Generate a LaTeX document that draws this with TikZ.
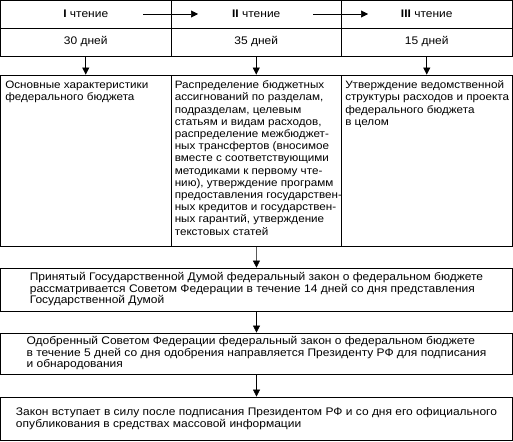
\documentclass[tikz,border=0pt]{standalone}
\usepackage{fontspec}
\setmainfont[FakeStretch=1.09]{Liberation Sans}
\usetikzlibrary{arrows.meta,positioning}

\begin{document}
\begin{tikzpicture}[x=1pt,y=-1pt,
  every node/.style={inner sep=0pt,font=\fontsize{11}{11.5}\selectfont},
  cell/.style={draw,line width=0.8pt,minimum width=170.5pt,minimum height=28pt},
  stagebox/.style={draw,line width=0.8pt,minimum width=170.5pt,minimum height=171pt},
  wide/.style={draw,line width=0.8pt,minimum width=512pt,align=left},
  txt/.style={anchor=north west,align=left,font=\fontsize{10.7}{12.2}\selectfont},
  flow/.style={line width=0.6pt,-{Triangle[length=7pt,width=7pt]}}]
\useasboundingbox (0,0) rectangle (513,441);
% readings
\node[cell] (h1) at (85.75,14) {\textbf{I} чтение};
\node[cell] (h2) at (256.25,14) {\textbf{II} чтение};
\node[cell] (h3) at (426.75,14) {\textbf{III} чтение};
\node[cell] (d1) at (85.75,42) {30 дней};
\node[cell] (d2) at (256.25,42) {35 дней};
\node[cell] (d3) at (426.75,42) {15 дней};
\coordinate (r1a) at (143,14);
\coordinate (r1b) at (198,14);
\coordinate (r2a) at (313,14);
\coordinate (r2b) at (368,14);
\draw[flow] (r1a) -- (r1b);
\draw[flow] (r2a) -- (r2b);
% what is adopted at each reading
\node[stagebox] (m1) at (85.75,160.5) {};
\node[stagebox] (m2) at (256.25,160.5) {};
\node[stagebox] (m3) at (426.75,160.5) {};
\node[txt] (t1) at ([xshift=5pt,yshift=-6pt]m1.north west) {Основные характеристики\\федерального бюджета};
\node[txt] (t2) at ([xshift=4pt,yshift=-6pt]m2.north west) {Распределение бюджетных\\ассигнований по разделам,\\подразделам, целевым\\статьям и видам расходов,\\распределение межбюджет-\\ных трансфертов (вносимое\\вместе с соответствующими\\методиками к первому чте-\\нию), утверждение программ\\предоставления государствен-\\ных кредитов и государствен-\\ных гарантий, утверждение\\текстовых статей};
\node[txt] (t3) at ([xshift=4pt,yshift=-6pt]m3.north west) {Утверждение ведомственной\\структуры расходов и проекта\\федерального бюджета\\в целом};
\draw[flow] (d1) -- (m1);
\draw[flow] (d2) -- (m2);
\draw[flow] (d3) -- (m3);
% further stages
\node[wide,minimum height=43pt] (b1) at (256.5,289.5) {Принятый Государственной Думой федеральный закон о федеральном бюджете\\рассматривается Советом Федерации в течение 14 дней со дня представления\\Государственной Думой};
\node[wide,minimum height=41pt] (b2) at (256.5,353.5) {Одобренный Советом Федерации федеральный закон о федеральном бюджете\\в течение 5 дней со дня одобрения направляется Президенту РФ для подписания\\и обнародования};
\node[wide,minimum height=43pt] (b3) at (256.5,418.5) {Закон вступает в силу после подписания Президентом РФ и со дня его официального\\опубликования в средствах массовой информации};
\draw[flow] (m2) -- (b1);
\draw[flow] (b1) -- (b2);
\draw[flow] (b2) -- (b3);
\end{tikzpicture}
\end{document}
